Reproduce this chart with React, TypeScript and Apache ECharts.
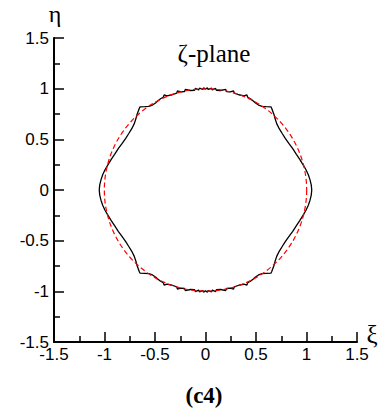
import React, { useEffect, useRef } from "react";
import * as echarts from "echarts";

// Tick labels of both axes
const xiTickLabels = ["-1.5", "-1", "-0.5", "0", "0.5", "1", "1.5"];
const etaTickLabels = ["-1.5", "-1", "-0.5", "0", "0.5", "1", "1.5"];

// Black body contour, first quadrant, from top (ξ=0) to right (η=0)
const quarterXi = [
  0.0, 0.018, 0.026, 0.06, 0.068, 0.1, 0.108, 0.15, 0.2, 0.208, 0.245, 0.278, 0.285, 0.33, 0.38,
  0.41, 0.418, 0.445, 0.47, 0.495, 0.525, 0.56, 0.6, 0.648, 0.656, 0.665, 0.678, 0.69, 0.705,
  0.73, 0.758, 0.79, 0.825, 0.862, 0.9, 0.935, 0.965, 0.995, 1.018, 1.035, 1.047, 1.052,
];
const quarterEta = [
  0.995, 1.008, 0.992, 1.005, 0.988, 1.002, 0.984, 0.982, 0.992, 0.972, 0.968, 0.978, 0.955, 0.94,
  0.928, 0.938, 0.915, 0.9, 0.88, 0.858, 0.838, 0.826, 0.823, 0.821, 0.805, 0.78, 0.745, 0.7,
  0.655, 0.605, 0.56, 0.51, 0.46, 0.41, 0.352, 0.3, 0.25, 0.2, 0.15, 0.1, 0.05, 0.0,
];

// Red dashed reference circle: centre ξ, centre η, radius
const refCircle = [[0, 0, 1]];

export default function App() {
  const ref = useRef<HTMLDivElement>(null);

  useEffect(() => {
    const chart = echarts.init(ref.current!, null, { renderer: "svg" });

    const q1 = quarterXi.map((x, i) => [x, quarterEta[i]]);
    const q4 = q1.slice().reverse().map(([x, y]) => [x, -y]);
    const q3 = q1.map(([x, y]) => [-x, -y]);
    const q2 = q1.slice().reverse().map(([x, y]) => [-x, y]);
    const loop = [...q1, ...q4.slice(1), ...q3.slice(1), ...q2.slice(1)];

    const tickFmt = (labels: string[]) => (v: number) => {
      const idx = Math.round((v + 1.5) / 0.5);
      return labels[idx] ?? "";
    };

    const axisCommon = {
      type: "value",
      min: -1.5,
      max: 1.5,
      interval: 0.5,
      axisLine: { show: true, onZero: false, lineStyle: { color: "#000", width: 2 } },
      axisTick: { show: true, inside: true, length: 10, lineStyle: { color: "#000", width: 1.5 } },
      minorTick: { show: true, splitNumber: 2, length: 6, lineStyle: { color: "#000", width: 1.5 } },
      splitLine: { show: false },
      minorSplitLine: { show: false },
    };

    const option: any = {
      animation: false,
      backgroundColor: "#fff",
      grid: { left: 54, right: 30, top: 38, bottom: 72, containLabel: false },
      xAxis: {
        ...axisCommon,
        axisLabel: {
          color: "#000",
          fontFamily: "'Liberation Sans', Arial, sans-serif",
          fontSize: 17,
          margin: 4,
          showMinLabel: true,
          showMaxLabel: true,
          formatter: tickFmt(xiTickLabels),
        },
      },
      yAxis: {
        ...axisCommon,
        axisLabel: {
          color: "#000",
          fontFamily: "'Liberation Sans', Arial, sans-serif",
          fontSize: 17,
          margin: 5,
          showMinLabel: true,
          showMaxLabel: true,
          formatter: tickFmt(etaTickLabels),
        },
      },
      series: [
        {
          type: "line",
          data: loop,
          symbol: "none",
          showSymbol: false,
          smooth: false,
          lineStyle: { color: "#000", width: 1.3 },
          z: 2,
        },
        {
          type: "custom",
          data: refCircle,
          encode: { x: 0, y: 1 },
          z: 3,
          renderItem: (params: any, api: any) => {
            const c = api.coord([api.value(0), api.value(1)]);
            const s = api.size([api.value(2), api.value(2)]);
            return {
              type: "circle",
              shape: { cx: c[0], cy: c[1], r: (s[0] + s[1]) / 2 },
              style: { fill: "none", stroke: "#ff0000", lineWidth: 1.2, lineDash: [5, 3] },
            };
          },
        },
      ],
      graphic: [
        {
          type: "text",
          x: 214,
          y: 53,
          style: {
            text: "ζ-plane",
            fill: "#000",
            fontSize: 25,
            fontFamily: "'Liberation Serif', 'Times New Roman', serif",
            align: "center",
            verticalAlign: "middle",
          },
        },
        {
          type: "text",
          x: 55,
          y: 14,
          style: {
            text: "η",
            fill: "#000",
            fontSize: 24,
            fontFamily: "'Liberation Serif', 'Times New Roman', serif",
            align: "center",
            verticalAlign: "middle",
          },
        },
        {
          type: "text",
          x: 372,
          y: 334,
          style: {
            text: "ξ",
            fill: "#000",
            fontSize: 25,
            fontFamily: "'Liberation Serif', 'Times New Roman', serif",
            align: "center",
            verticalAlign: "middle",
          },
        },
        {
          type: "text",
          x: 204,
          y: 395,
          style: {
            text: "(c4)",
            fill: "#000",
            fontSize: 23,
            fontWeight: "bold",
            fontFamily: "'Liberation Serif', 'Times New Roman', serif",
            align: "center",
            verticalAlign: "middle",
          },
        },
      ],
    };

    chart.setOption(option);
    return () => chart.dispose();
  }, []);

  return (
    <div
      ref={ref}
      style={{ position: "absolute", left: 0, top: 0, width: 387, height: 414, background: "#fff" }}
    />
  );
}
